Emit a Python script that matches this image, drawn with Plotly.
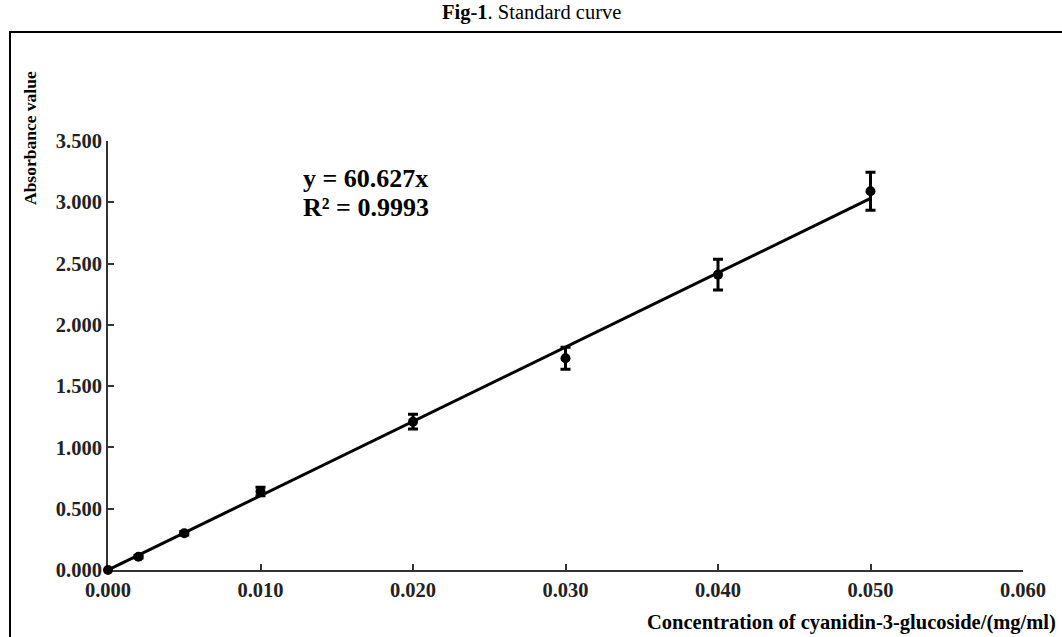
import plotly.graph_objects as go

# Data
concentration = [0.000, 0.002, 0.005, 0.010, 0.020, 0.030, 0.040, 0.050]
absorbance = [0.000, 0.108, 0.300, 0.640, 1.210, 1.727, 2.410, 3.090]
abs_error = [0.000, 0.010, 0.015, 0.035, 0.060, 0.090, 0.125, 0.155]
slope = 60.627
r_squared = 0.9993
trend_x = [0.0, 0.050]
trend_y = [slope * v for v in trend_x]

x_ticks = [0.000, 0.010, 0.020, 0.030, 0.040, 0.050, 0.060]
y_ticks = [0.000, 0.500, 1.000, 1.500, 2.000, 2.500, 3.000, 3.500]

SERIF = "Liberation Serif, Times New Roman, serif"
W, H = 1062, 637
L, R, T, B = 108, 39, 141, 67
pw, ph = W - L - R, H - T - B

fig = go.Figure()
fig.add_trace(go.Scatter(
    x=trend_x, y=trend_y, mode="lines",
    line=dict(color="black", width=3), showlegend=False, hoverinfo="skip"))
fig.add_trace(go.Scatter(
    x=concentration, y=absorbance, mode="markers", cliponaxis=False,
    marker=dict(color="black", size=10),
    error_y=dict(type="data", array=abs_error, visible=True,
                 color="black", thickness=3, width=5),
    showlegend=False))

axis_font = dict(family=SERIF, size=20.5, color="#222222")
common = dict(showline=True, linecolor="#333333", linewidth=2,
              ticks="inside", ticklen=6, tickwidth=2, tickcolor="#333333",
              showgrid=False, zeroline=False, tickfont=axis_font, layer="below traces")
fig.update_xaxes(range=[0, 0.060], tickvals=x_ticks,
                 ticktext=[f"<b>{v:.3f}</b>" for v in x_ticks], **common)
fig.update_yaxes(range=[0, 3.500], tickvals=y_ticks,
                 ticktext=[f"<b>{v:.3f}</b>" for v in y_ticks], **common)


def px_x(p):
    return (p - L) / pw


def px_y(p):
    return 1 - (p - T) / ph


# outer frame
fig.add_shape(type="rect", xref="paper", yref="paper",
              x0=px_x(10), x1=px_x(1066), y0=px_y(32), y1=px_y(642),
              line=dict(color="black", width=2), fillcolor="rgba(0,0,0,0)")

fig.add_annotation(xref="paper", yref="paper", x=px_x(531), y=px_y(13),
                   xanchor="center", yanchor="middle", showarrow=False,
                   text="<b>Fig-1</b>. Standard curve",
                   font=dict(family=SERIF, size=20.5, color="black"))
fig.add_annotation(xref="paper", yref="paper", x=px_x(1058), y=px_y(622),
                   xanchor="right", yanchor="middle", showarrow=False,
                   text="<b>Concentration of cyanidin-3-glucoside/(mg/ml)</b>",
                   font=dict(family=SERIF, size=20.5, color="black"))
fig.add_annotation(xref="paper", yref="paper", x=px_x(30), y=px_y(138),
                   xanchor="center", yanchor="middle", showarrow=False,
                   textangle=-90, text="<b>Absorbance value</b>",
                   font=dict(family=SERIF, size=17.5, color="black"))
fig.add_annotation(xref="paper", yref="paper", x=px_x(301), y=px_y(178),
                   xanchor="left", yanchor="middle", showarrow=False,
                   text=f"<b>y = {slope}x</b>",
                   font=dict(family=SERIF, size=26, color="black"))
fig.add_annotation(xref="paper", yref="paper", x=px_x(301), y=px_y(207),
                   xanchor="left", yanchor="middle", showarrow=False,
                   text=f"<b>R² = {r_squared}</b>",
                   font=dict(family=SERIF, size=26, color="black"))

fig.update_layout(width=W, height=H, margin=dict(l=L, r=R, t=T, b=B),
                  paper_bgcolor="white", plot_bgcolor="white")
fig.write_html("out.html", config={"displayModeBar": False},
               post_script="document.body.style.margin='0';document.body.style.overflow='hidden';")
